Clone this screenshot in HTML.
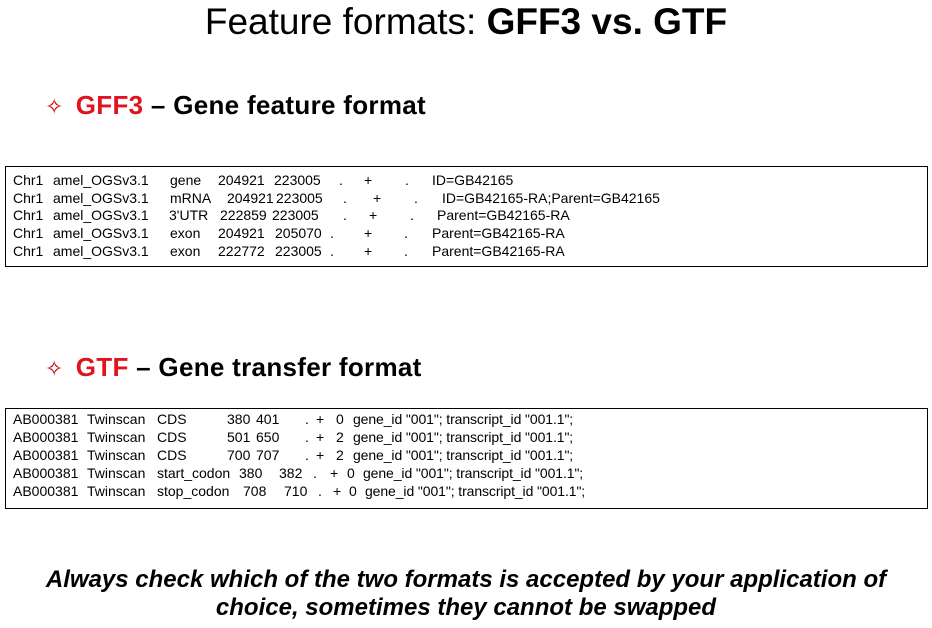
<!DOCTYPE html>
<html><head><meta charset="utf-8"><style>
body{margin:0;width:932px;height:628px;background:#fff;position:relative;overflow:hidden;font-family:"Liberation Sans",Arial,sans-serif;color:#000}
.a{position:absolute;white-space:pre}
.t{font-size:14px;line-height:16px}
.g{letter-spacing:-0.1px;font-size:14px}
.box{position:absolute;left:5px;width:923px;border:1px solid #000;box-sizing:border-box}
.h{position:absolute;font-size:26px;font-weight:bold;white-space:pre;line-height:30px;letter-spacing:0.3px}
.h .s{color:#c00;font-weight:normal;font-size:22px;margin-right:12px}
.h .r{color:#e0141e}
</style></head><body>
<div class="a" style="left:0;width:932px;text-align:center;top:1px;font-size:37px;line-height:42px">Feature formats: <b>GFF3 vs. GTF</b></div>
<div class="h" style="left:45px;top:90px"><span class="s">✧</span><span class="r">GFF3</span> – Gene feature format</div>
<div class="h" style="left:45px;top:352px"><span class="s">✧</span><span class="r">GTF</span> – Gene transfer format</div>
<div class="box" style="top:166px;height:101px"></div>
<div class="box" style="top:408px;height:101px"></div>

<div class="t">
<span class="a" style="top:172px;left:13px">Chr1</span><span class="a" style="top:172px;left:53px">amel_OGSv3.1</span><span class="a" style="top:172px;left:170px">gene</span><span class="a" style="top:172px;left:218px">204921</span><span class="a" style="top:172px;left:274px">223005</span><span class="a" style="top:172px;left:339px">.</span><span class="a" style="top:172px;left:364px">+</span><span class="a" style="top:172px;left:405px">.</span><span class="a" style="top:172px;left:432px">ID=GB42165</span>
<span class="a" style="top:190px;left:13px">Chr1</span><span class="a" style="top:190px;left:53px">amel_OGSv3.1</span><span class="a" style="top:190px;left:170px">mRNA</span><span class="a" style="top:190px;left:227px">204921</span><span class="a" style="top:190px;left:276px">223005</span><span class="a" style="top:190px;left:343px">.</span><span class="a" style="top:190px;left:373px">+</span><span class="a" style="top:190px;left:414px">.</span><span class="a" style="top:190px;left:442px">ID=GB42165-RA;Parent=GB42165</span>
<span class="a" style="top:207px;left:13px">Chr1</span><span class="a" style="top:207px;left:53px">amel_OGSv3.1</span><span class="a" style="top:207px;left:169px">3'UTR</span><span class="a" style="top:207px;left:220px">222859</span><span class="a" style="top:207px;left:272px">223005</span><span class="a" style="top:207px;left:343px">.</span><span class="a" style="top:207px;left:369px">+</span><span class="a" style="top:207px;left:410px">.</span><span class="a" style="top:207px;left:437px">Parent=GB42165-RA</span>
<span class="a" style="top:225px;left:13px">Chr1</span><span class="a" style="top:225px;left:53px">amel_OGSv3.1</span><span class="a" style="top:225px;left:170px">exon</span><span class="a" style="top:225px;left:218px">204921</span><span class="a" style="top:225px;left:275px">205070</span><span class="a" style="top:225px;left:330px">.</span><span class="a" style="top:225px;left:364px">+</span><span class="a" style="top:225px;left:404px">.</span><span class="a" style="top:225px;left:432px">Parent=GB42165-RA</span>
<span class="a" style="top:243px;left:13px">Chr1</span><span class="a" style="top:243px;left:53px">amel_OGSv3.1</span><span class="a" style="top:243px;left:170px">exon</span><span class="a" style="top:243px;left:218px">222772</span><span class="a" style="top:243px;left:275px">223005</span><span class="a" style="top:243px;left:330px">.</span><span class="a" style="top:243px;left:364px">+</span><span class="a" style="top:243px;left:404px">.</span><span class="a" style="top:243px;left:432px">Parent=GB42165-RA</span>

<span class="a" style="top:411px;left:13px">AB000381</span><span class="a" style="top:411px;left:87px">Twinscan</span><span class="a" style="top:411px;left:157px">CDS</span><span class="a" style="top:411px;left:227px">380</span><span class="a" style="top:411px;left:256px">401</span><span class="a" style="top:411px;left:305px">.</span><span class="a" style="top:411px;left:316px">+</span><span class="a" style="top:411px;left:336px">0</span><span class="a g" style="top:411px;left:353px">gene_id "001"; transcript_id "001.1";</span>
<span class="a" style="top:429px;left:13px">AB000381</span><span class="a" style="top:429px;left:87px">Twinscan</span><span class="a" style="top:429px;left:157px">CDS</span><span class="a" style="top:429px;left:227px">501</span><span class="a" style="top:429px;left:256px">650</span><span class="a" style="top:429px;left:305px">.</span><span class="a" style="top:429px;left:316px">+</span><span class="a" style="top:429px;left:336px">2</span><span class="a g" style="top:429px;left:353px">gene_id "001"; transcript_id "001.1";</span>
<span class="a" style="top:447px;left:13px">AB000381</span><span class="a" style="top:447px;left:87px">Twinscan</span><span class="a" style="top:447px;left:157px">CDS</span><span class="a" style="top:447px;left:227px">700</span><span class="a" style="top:447px;left:256px">707</span><span class="a" style="top:447px;left:305px">.</span><span class="a" style="top:447px;left:316px">+</span><span class="a" style="top:447px;left:336px">2</span><span class="a g" style="top:447px;left:353px">gene_id "001"; transcript_id "001.1";</span>
<span class="a" style="top:465px;left:13px">AB000381</span><span class="a" style="top:465px;left:87px">Twinscan</span><span class="a" style="top:465px;left:157px">start_codon</span><span class="a" style="top:465px;left:239px">380</span><span class="a" style="top:465px;left:279px">382</span><span class="a" style="top:465px;left:313px">.</span><span class="a" style="top:465px;left:330px">+</span><span class="a" style="top:465px;left:347px">0</span><span class="a g" style="top:465px;left:363px">gene_id "001"; transcript_id "001.1";</span>
<span class="a" style="top:483px;left:13px">AB000381</span><span class="a" style="top:483px;left:87px">Twinscan</span><span class="a" style="top:483px;left:157px">stop_codon</span><span class="a" style="top:483px;left:243px">708</span><span class="a" style="top:483px;left:284px">710</span><span class="a" style="top:483px;left:318px">.</span><span class="a" style="top:483px;left:333px">+</span><span class="a" style="top:483px;left:349px">0</span><span class="a g" style="top:483px;left:365px">gene_id "001"; transcript_id "001.1";</span>
</div>

<div class="a" style="left:0;width:932px;text-align:center;top:566px;font-size:24px;font-weight:bold;font-style:italic;line-height:28px">Always check which of the two formats is accepted by your application of
choice, sometimes they cannot be swapped</div>
</body></html>
